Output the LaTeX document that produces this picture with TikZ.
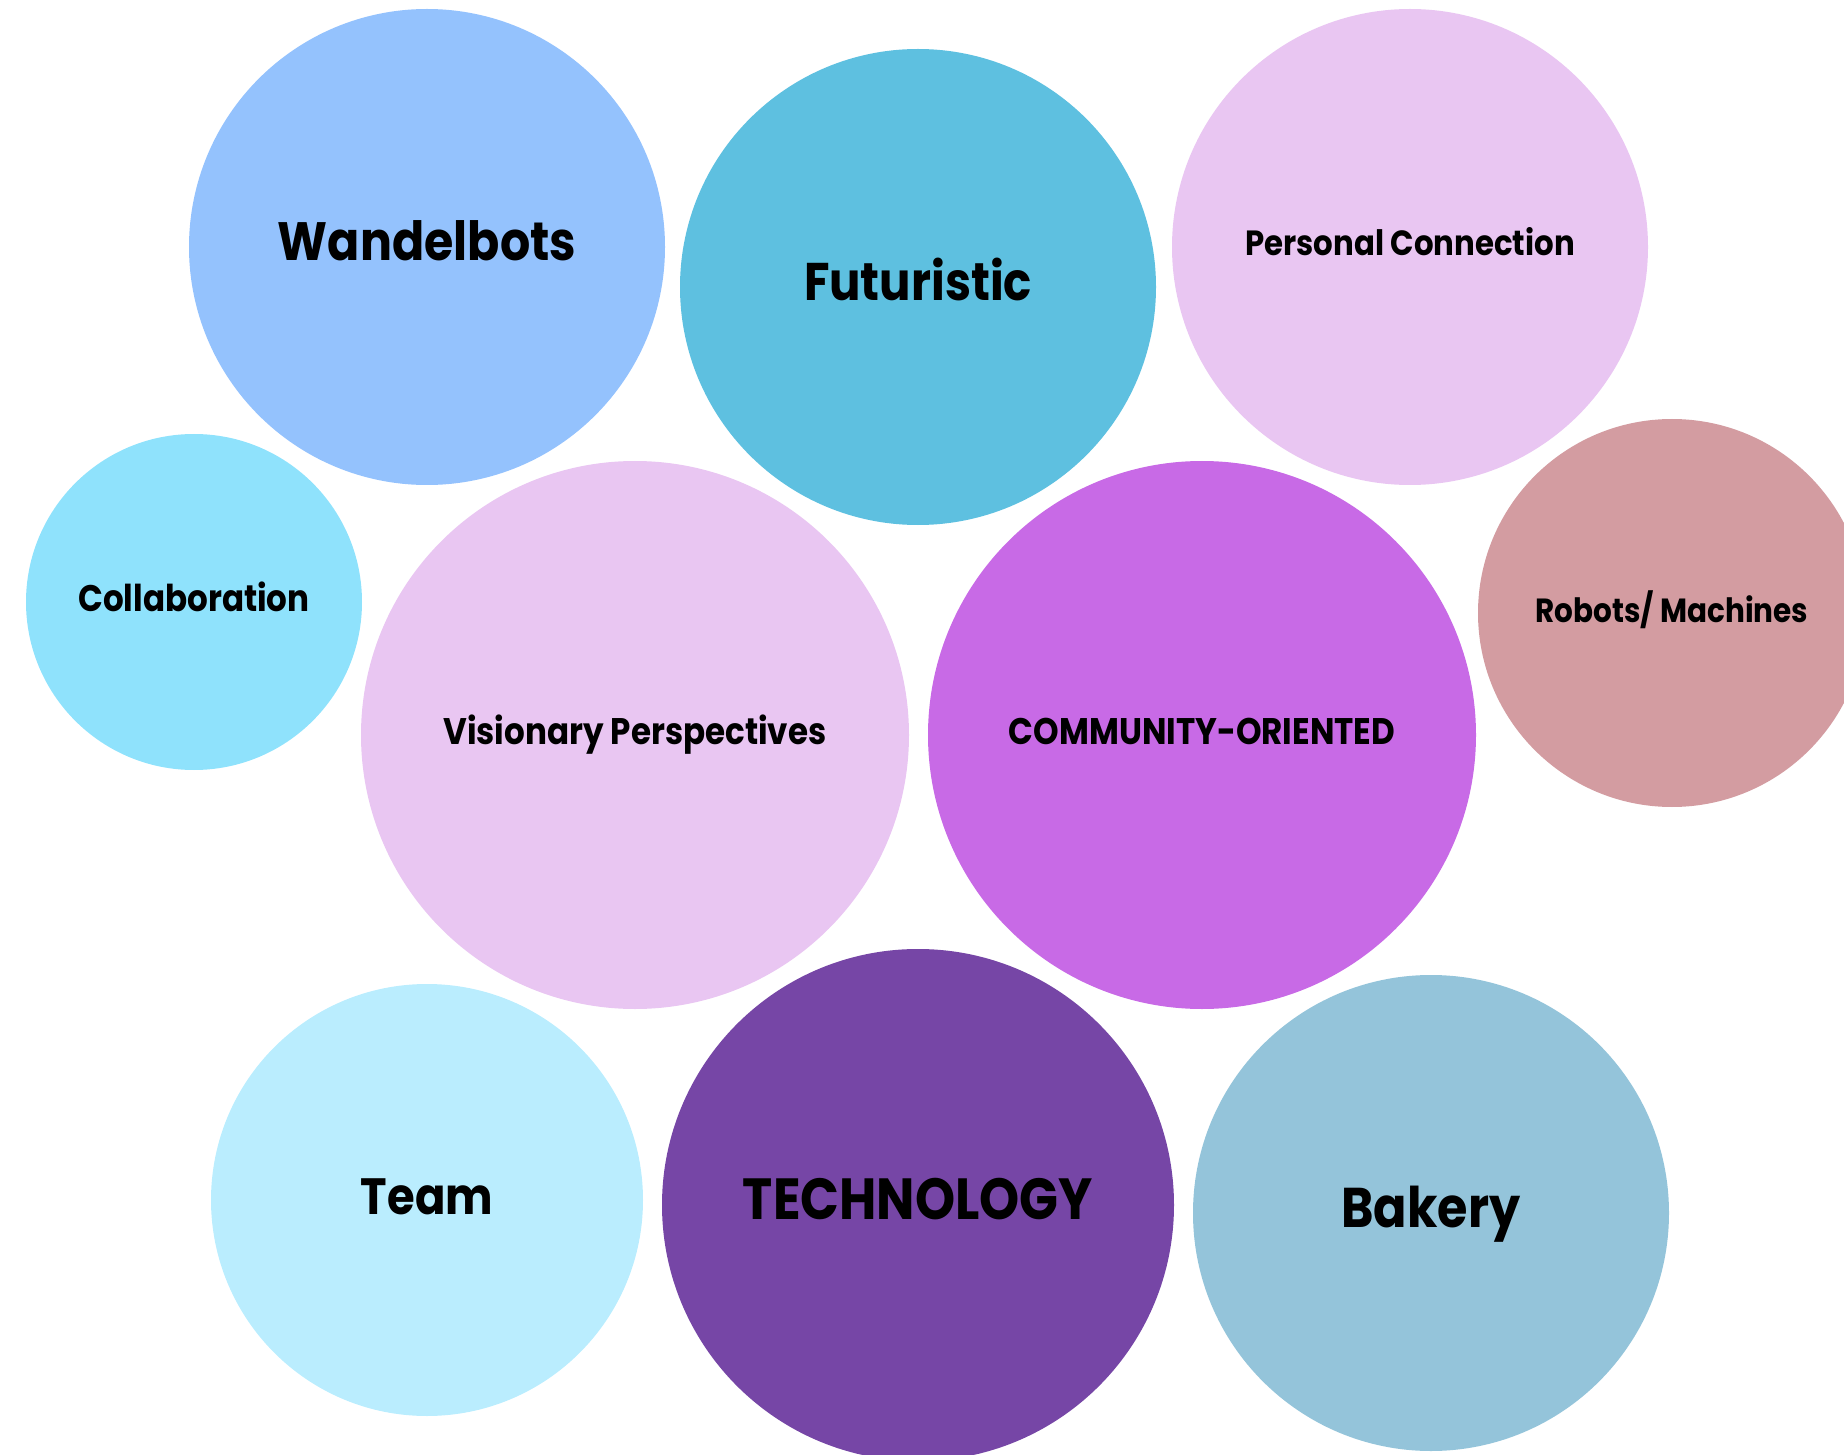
\documentclass[tikz,border=0pt]{standalone}
\usepackage{fontspec}
\setmainfont{Poppins}[FakeStretch=0.88]
\usepackage{tikz}

\definecolor{wandelblue}{RGB}{148,194,253}
\definecolor{futureblue}{RGB}{94,192,224}
\definecolor{lilac}{RGB}{233,198,242}
\definecolor{collabblue}{RGB}{143,226,252}
\definecolor{communitypurple}{RGB}{200,106,230}
\definecolor{robotrose}{RGB}{211,156,161}
\definecolor{teamblue}{RGB}{186,237,254}
\definecolor{techpurple}{RGB}{118,70,166}
\definecolor{bakeryblue}{RGB}{148,196,218}

\begin{document}
\begin{tikzpicture}[x=1pt, y=-1pt, scale=0.5, transform shape,
bubble/.style={circle, inner sep=0pt},
bigbubble/.style={bubble, text height=40pt, text depth=12pt, font=\fontsize{54}{60}\selectfont\bfseries},
smallbubble/.style={bubble, text height=26pt, text depth=8pt, font=\fontsize{37}{40}\selectfont\bfseries},
]
\useasboundingbox (0,0) rectangle (1844,1455);
\clip (0,0) rectangle (1844,1455);
%Nodes
\node[bigbubble, fill=wandelblue, minimum size=476pt]        (Wandelbots)   at (427,247)   {Wandelbots};
\node[bigbubble, fill=futureblue, minimum size=476pt, font=\fontsize{53}{60}\selectfont\bfseries] (Futuristic) at (918,287) {Futuristic};
\node[smallbubble, fill=lilac, minimum size=476pt, font=\fontsize{35}{40}\selectfont\bfseries]    (Personal)   at (1410,247) {Personal Connection};
\node[smallbubble, fill=collabblue, minimum size=336pt]      (Collab)       at (194,602)   {Collaboration};
\node[smallbubble, fill=lilac, minimum size=548pt]           (Visionary)    at (635,735)   {Visionary Perspectives};
\node[smallbubble, fill=communitypurple, minimum size=548pt] (Community)    at (1202,735)  {COMMUNITY-ORIENTED};
\node[smallbubble, fill=robotrose, minimum size=388pt, font=\fontsize{33.5}{40}\selectfont\bfseries] (Robots) at (1672,613) {Robots/ Machines};
\node[bigbubble, fill=teamblue, minimum size=432pt, font=\fontsize{51}{60}\selectfont\bfseries]      (Team)   at (427,1200) {Team};
\node[bigbubble, fill=techpurple, minimum size=512pt, font=\fontsize{58}{60}\selectfont\bfseries]    (Technology) at (918,1205) {TECHNOLOGY};
\node[bigbubble, fill=bakeryblue, minimum size=476pt, font=\fontsize{56}{60}\selectfont\bfseries]    (Bakery) at (1431,1213) {Bakery};

\end{tikzpicture}
\end{document}
